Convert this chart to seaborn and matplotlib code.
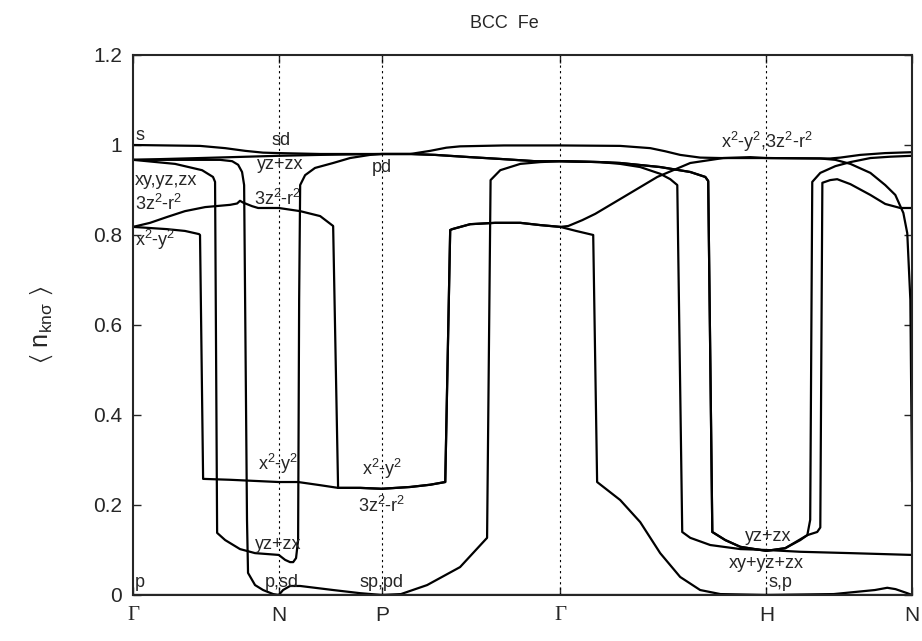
import numpy as np
import pandas as pd
import matplotlib
matplotlib.use("Agg")
import matplotlib.pyplot as plt
import seaborn as sns

# high-symmetry points along Γ-N-P-Γ-H-N (units of 2π/a)
kpath_labels = ["Γ", "N", "P", "Γ", "H", "N"]
kpath_pos = [0.0, 0.7071, 1.2071, 2.0731, 3.0731, 3.7802]

# occupation curves: (k, <n>)
s_k = [0, 0.325, 0.447, 0.544, 0.631, 0.7071, 0.908, 1.2071, 1.345, 1.442, 1.520, 1.587, 1.8, 2.0731,
       2.364, 2.510, 2.583, 2.655, 2.752, 2.850, 3.0731, 3.383, 3.432, 3.529, 3.650, 3.7802]
s_n = [1.000, 0.998, 0.993, 0.987, 0.983, 0.982, 0.980, 0.980, 0.980, 0.987, 0.994, 0.997, 0.999, 0.999,
       0.998, 0.993, 0.986, 0.978, 0.972, 0.971, 0.971, 0.970, 0.972, 0.978, 0.982, 0.984]

eg2_k = [0, 0.0825, 0.165, 0.252, 0.350, 0.471, 0.505, 0.519, 0.534, 0.578, 0.607, 0.7071, 0.811, 0.908,
         0.971, 0.995, 1.102, 1.2071, 1.345, 1.442, 1.515, 1.539, 1.549, 1.636, 1.757, 1.879, 1.976, 2.0731,
         2.112, 2.180, 2.243, 2.379, 2.544, 2.704, 2.864, 2.995, 3.0731, 3.335, 3.408, 3.481, 3.578, 3.650,
         3.699, 3.738, 3.757, 3.772, 3.7802]
eg2_n = [0.818, 0.827, 0.840, 0.853, 0.862, 0.867, 0.870, 0.876, 0.872, 0.864, 0.860, 0.860, 0.853, 0.842,
         0.820, 0.238, 0.238, 0.236, 0.240, 0.245, 0.251, 0.811, 0.813, 0.824, 0.827, 0.827, 0.822, 0.818,
         0.820, 0.833, 0.847, 0.884, 0.929, 0.960, 0.971, 0.973, 0.971, 0.970, 0.967, 0.958, 0.938, 0.911,
         0.889, 0.849, 0.804, 0.656, 0.251]

eg1_k = [0, 0.165, 0.252, 0.320, 0.325, 0.340, 0.471, 0.7071, 0.801, 0.908, 0.995, 1.102, 1.2071, 1.345,
         1.442, 1.515, 1.539, 1.549, 1.636, 1.757, 1.879, 1.976, 2.0731, 2.150, 2.233, 2.252, 2.364, 2.461,
         2.558, 2.655, 2.752, 2.850, 3.0731, 3.4, 3.6, 3.660, 3.700, 3.757, 3.7802]
eg1_n = [0.818, 0.813, 0.809, 0.802, 0.800, 0.258, 0.256, 0.251, 0.251, 0.244, 0.238, 0.238, 0.236, 0.240,
         0.245, 0.251, 0.811, 0.813, 0.824, 0.827, 0.827, 0.822, 0.818, 0.809, 0.800, 0.251, 0.211, 0.162,
         0.093, 0.040, 0.011, 0.002, 0.0, 0.002, 0.011, 0.016, 0.013, 0.004, 0.0]

b_k = [0, 0.228, 0.422, 0.481, 0.510, 0.529, 0.539, 0.553, 0.558, 0.592, 0.631, 0.680, 0.7071, 0.728,
       0.762, 0.811, 0.971, 1.102, 1.2071, 1.300, 1.427, 1.587, 1.718, 1.735, 1.782, 1.879, 1.976, 2.0731,
       2.267, 2.364, 2.558, 2.704, 2.777, 2.791, 2.811, 2.874, 2.947, 3.0731, 3.165, 3.272, 3.320, 3.335,
       3.345, 3.383, 3.417, 3.481, 3.578, 3.650, 3.723, 3.7802]
b_n = [0.967, 0.967, 0.967, 0.964, 0.956, 0.940, 0.911, 0.167, 0.049, 0.022, 0.011, 0.002, 0.0, 0.011,
       0.020, 0.020, 0.011, 0.004, 0.0, 0.002, 0.022, 0.062, 0.127, 0.922, 0.944, 0.958, 0.962, 0.964,
       0.962, 0.960, 0.951, 0.940, 0.929, 0.920, 0.140, 0.122, 0.107, 0.098, 0.104, 0.133, 0.140, 0.150,
       0.916, 0.922, 0.924, 0.913, 0.889, 0.869, 0.860, 0.860]

t2g_k = [0, 0.325, 0.7071, 0.908, 1.2071, 1.345, 1.466, 1.636, 1.782, 1.951, 2.0731, 2.267, 2.364, 2.558,
         2.704, 2.777, 2.791, 2.811, 2.874, 2.947, 3.0731, 3.165, 3.238, 3.272, 3.286, 3.296, 3.335, 3.408,
         3.481, 3.578, 3.675, 3.7802]
t2g_n = [0.967, 0.971, 0.976, 0.978, 0.980, 0.980, 0.978, 0.973, 0.969, 0.964, 0.964, 0.962, 0.960, 0.951,
         0.940, 0.929, 0.920, 0.140, 0.122, 0.107, 0.098, 0.104, 0.122, 0.133, 0.167, 0.918, 0.938, 0.953,
         0.962, 0.971, 0.974, 0.976]

c_k = [0, 0.204, 0.335, 0.388, 0.398, 0.408, 0.447, 0.519, 0.592, 0.7071, 0.738, 0.762, 0.777, 0.791,
       0.801, 0.806, 0.811, 0.835, 0.883, 0.971, 1.053, 1.150, 1.2071, 1.345, 1.466, 1.636, 1.782, 1.951,
       2.0731, 2.267, 2.364, 2.461, 2.558, 2.607, 2.641, 2.665, 2.704, 2.801, 2.947, 3.0731, 3.238, 3.481,
       3.7802]
c_n = [0.967, 0.958, 0.944, 0.929, 0.918, 0.138, 0.122, 0.102, 0.093, 0.089, 0.078, 0.073, 0.073, 0.082,
       0.122, 0.656, 0.911, 0.933, 0.949, 0.960, 0.971, 0.978, 0.980, 0.980, 0.978, 0.973, 0.969, 0.964,
       0.964, 0.962, 0.958, 0.951, 0.936, 0.924, 0.911, 0.140, 0.127, 0.111, 0.102, 0.100, 0.096, 0.093,
       0.089]

p_k = [0, 3.7802]
p_n = [0.0, 0.0]

curves = {"s": (s_k, s_n), "eg2": (eg2_k, eg2_n), "eg1": (eg1_k, eg1_n), "b": (b_k, b_n),
          "t2g": (t2g_k, t2g_n), "c": (c_k, c_n), "p": (p_k, p_n)}

X2Y2 = r"x$^2$-y$^2$"
Z2R2 = r"3z$^2$-r$^2$"

# orbital labels: (text, k, n, ha)
orb_labels = [
    ("s", 0.01, 1.020, "left"), ("sd", 0.718, 1.011, "center"), ("yz+zx", 0.714, 0.957, "center"),
    ("pd", 1.2071, 0.951, "center"), ("xy,yz,zx", 0.01, 0.922, "left"), (Z2R2, 0.01, 0.868, "left"),
    (X2Y2, 0.01, 0.789, "left"), (Z2R2, 0.704, 0.880, "center"), (X2Y2, 0.704, 0.291, "center"),
    ("yz+zx", 0.704, 0.113, "center"), ("p,sd", 0.723, 0.027, "center"), ("p", 0.01, 0.027, "left"),
    (X2Y2, 1.2071, 0.280, "center"), (Z2R2, 1.2071, 0.198, "center"), ("sp,pd", 1.2071, 0.027, "center"),
    (X2Y2 + "," + Z2R2, 3.0731, 1.006, "center"), ("yz+zx", 3.083, 0.129, "center"),
    ("xy+yz+zx", 3.0731, 0.071, "center"), ("s,p", 3.083, 0.027, "left"),
]

rows = []
for name, (ks, ns) in curves.items():
    for k, n in zip(ks, ns):
        rows.append({"band": name, "k": k, "n": n})
df = pd.DataFrame(rows)

sns.set_style("ticks")
plt.rcParams["font.family"] = ["Liberation Sans", "DejaVu Sans"]
plt.rcParams["mathtext.fontset"] = "custom"
plt.rcParams["mathtext.rm"] = "Liberation Sans"
plt.rcParams["mathtext.it"] = "Liberation Sans"
plt.rcParams["mathtext.default"] = "regular"

fig = plt.figure(figsize=(9.22, 6.41), dpi=100)
ax = fig.add_axes([0.1443, 0.0718, 0.8449, 0.8424])

for x in kpath_pos[1:-1]:
    ax.axvline(x, color="black", lw=0.8, ls=(0, (2, 3)), zorder=1)

sns.lineplot(data=df, x="k", y="n", units="band", estimator=None, sort=False,
             color="black", lw=1.6, ax=ax, legend=False)

for txt, k, n, ha in orb_labels:
    ax.text(k, n, txt, ha=ha, va="center", fontsize=13)

ax.set_xlim(kpath_pos[0], kpath_pos[-1])
ax.set_ylim(0, 1.2)
ax.set_yticks(np.arange(0, 1.21, 0.2))
ax.set_yticklabels(["0", "0.2", "0.4", "0.6", "0.8", "1", "1.2"])
ax.set_xticks(kpath_pos)
ax.set_xticklabels(kpath_labels)
for lab in ax.get_xticklabels():
    if lab.get_text() == "Γ":
        lab.set_family("Liberation Serif")
ax.tick_params(direction="in", length=6, width=1, top=True, right=True, labelsize=15, pad=8)
for sp in ax.spines.values():
    sp.set_linewidth(1.5)
ax.set_xlabel("")
ax.set_ylabel("")

fig.text(0.547, 0.9626, "BCC  Fe", ha="center", va="center", fontsize=13)
fig.text(0.045, 0.493, r"$\langle\ n_{knσ}\ \rangle$", rotation=90,
         ha="center", va="center", fontsize=18)

fig.savefig("out.png", dpi=100)
